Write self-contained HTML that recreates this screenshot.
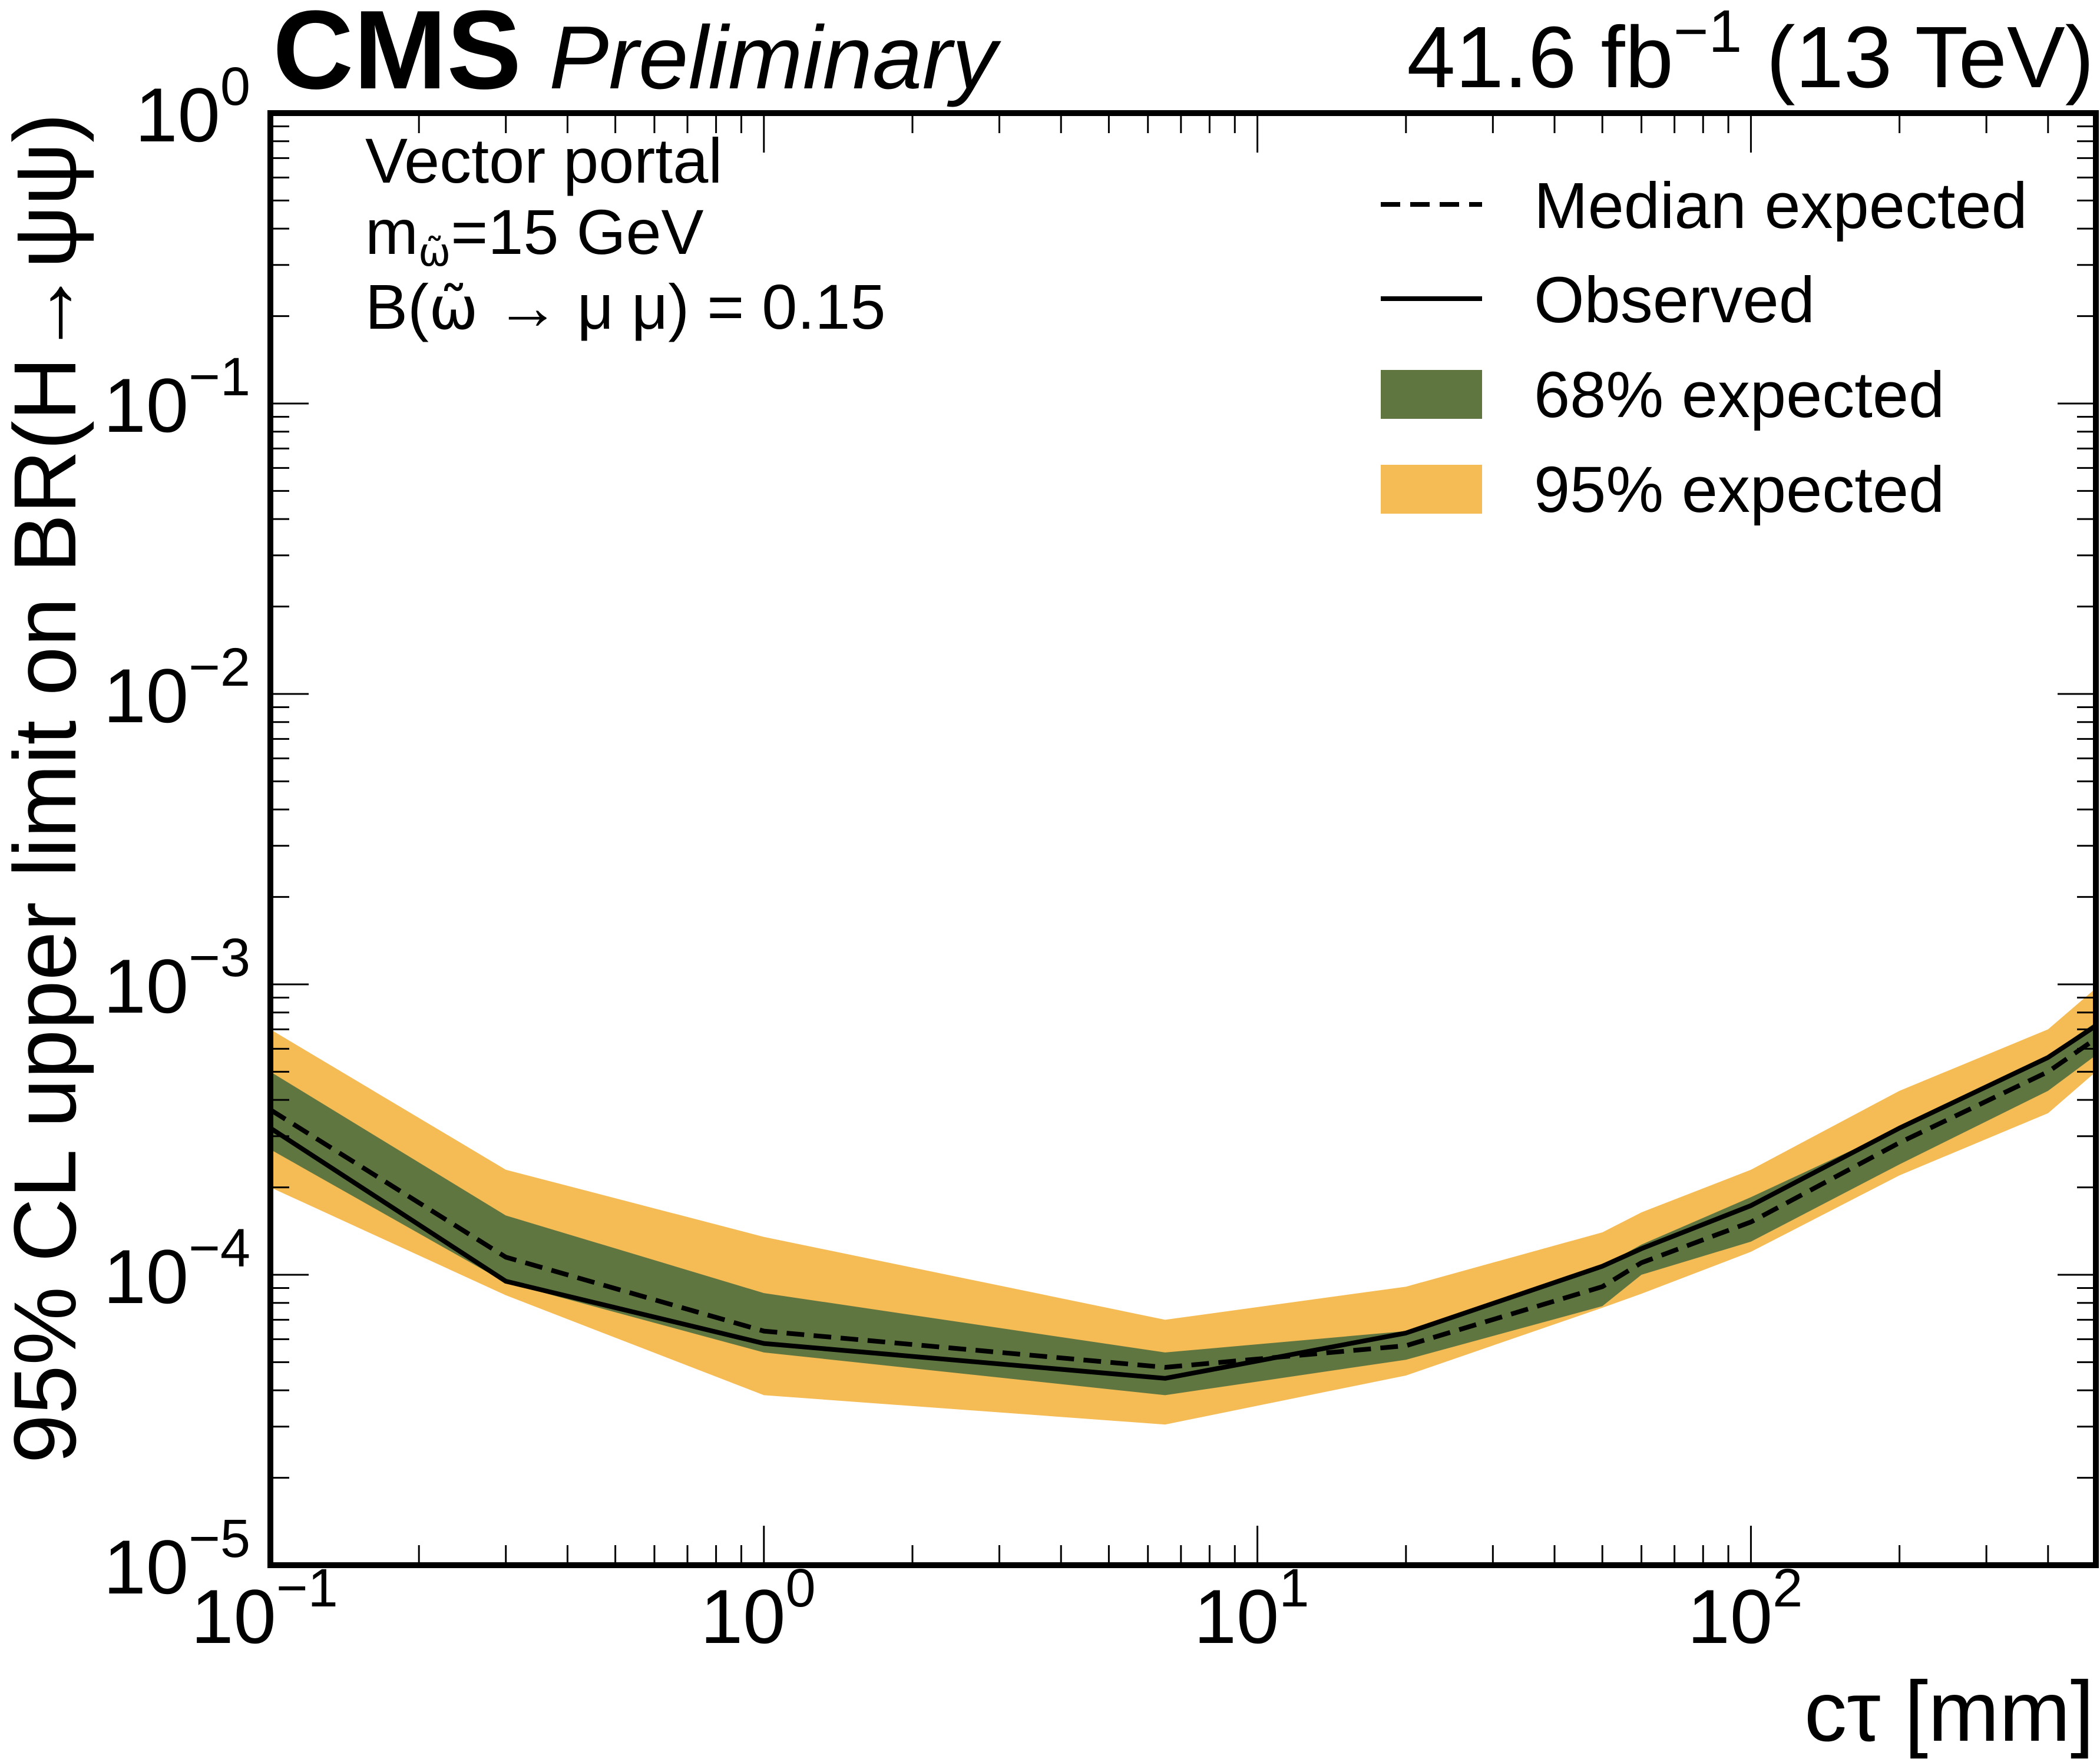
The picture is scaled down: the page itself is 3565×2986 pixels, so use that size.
<!DOCTYPE html>
<html><head><meta charset="utf-8"><style>
html,body{margin:0;padding:0;background:#fff}
svg{display:block}
text{font-family:"Liberation Sans",Arial,sans-serif;fill:#000}
.dv{font-family:"DejaVu Sans",sans-serif}
</style></head><body>
<svg id="chart" width="3565" height="2986" viewBox="0 0 3565 2986" xmlns="http://www.w3.org/2000/svg">
<g id="bands"></g>
<g id="lines"></g>
<g id="axes"></g>
<rect x="459" y="192" width="3099" height="2465" fill="none" stroke="#000" stroke-width="10"/>
<text x="463" y="150" font-size="190" font-weight="bold">CMS</text>
<text x="932" y="150" font-size="152" font-style="italic">Preliminary</text>
<text x="3555" y="148" font-size="148" text-anchor="end">41.6 fb<tspan dy="-60" font-size="102">−1</tspan><tspan dy="60"> (13 TeV)</tspan></text>
<text x="620" y="310" font-size="108">Vector portal</text>
<text x="620" y="431" font-size="108">m<tspan dy="20" font-size="66" class="dv">ω̃</tspan><tspan dy="-20">=15 GeV</tspan></text>
<text x="620" y="558" font-size="108">B(<tspan class="dv" font-size="100">ω̃</tspan> → μ μ) = 0.15</text>
<g>
<line x1="2344" y1="347" x2="2516" y2="347" stroke="#000" stroke-width="8" stroke-dasharray="33,17"/>
<text x="2604" y="387" font-size="110">Median expected</text>
<line x1="2344" y1="507" x2="2516" y2="507" stroke="#000" stroke-width="8"/>
<text x="2604" y="547" font-size="110">Observed</text>
<rect x="2344" y="628" width="172" height="83" fill="#607641"/>
<text x="2604" y="708" font-size="110">68% expected</text>
<rect x="2344" y="789" width="172" height="83" fill="#F5BB54"/>
<text x="2604" y="869" font-size="110">95% expected</text>
</g>
<text x="3555" y="2955" font-size="145" text-anchor="end">cτ [mm]</text>
<text transform="translate(128,192) rotate(-90)" font-size="150" text-anchor="end">95% CL upper limit on BR(H→ψψ)</text>
</svg>
<script>
const ctau = [0.1, 0.3, 1, 6.5, 20, 50, 60, 100, 200, 400, 500];
const observed = [3.2e-4, 9.5e-5, 5.8e-5, 4.4e-5, 6.3e-5, 1.07e-4, 1.23e-4, 1.73e-4, 3.2e-4, 5.6e-4, 7.2e-4];
const expected = [3.7e-4, 1.15e-4, 6.4e-5, 4.8e-5, 5.7e-5, 9.1e-5, 1.1e-4, 1.52e-4, 2.85e-4, 5.0e-4, 6.5e-4];
const up68 = [5.0e-4, 1.6e-4, 8.65e-5, 5.4e-5, 6.4e-5, 1.07e-4, 1.27e-4, 1.85e-4, 3.2e-4, 5.7e-4, 7.4e-4];
const lo68 = [2.7e-4, 9.4e-5, 5.4e-5, 3.85e-5, 5.1e-5, 7.8e-5, 1.0e-4, 1.3e-4, 2.4e-4, 4.3e-4, 5.7e-4];
const up95 = [7.0e-4, 2.3e-4, 1.35e-4, 7.0e-5, 9.1e-5, 1.4e-4, 1.64e-4, 2.3e-4, 4.3e-4, 7.0e-4, 9.7e-4];
const lo95 = [2.0e-4, 8.5e-5, 3.85e-5, 3.05e-5, 4.5e-5, 7.7e-5, 8.6e-5, 1.2e-4, 2.2e-4, 3.6e-4, 5.0e-4];
const xDecades = [-1, 0, 1, 2];
const yDecades = [0, -1, -2, -3, -4, -5];

const NS = "http://www.w3.org/2000/svg";
const L = 459, R = 3558, T = 192, B = 2657;
const xMinLog = -1, xMaxLog = Math.log10(500);
const yMinLog = -5, yMaxLog = 0;
function xs(v){ return L + (Math.log10(v) - xMinLog) / (xMaxLog - xMinLog) * (R - L); }
function ys(v){ return B - (Math.log10(v) - yMinLog) / (yMaxLog - yMinLog) * (B - T); }
function mk(tag, attrs, parent){ const e = document.createElementNS(NS, tag); for (const k in attrs) e.setAttribute(k, attrs[k]); parent.appendChild(e); return e; }

const bands = document.getElementById('bands');
function band(up, lo, color, name){
  let d = '';
  ctau.forEach((c,i)=>{ d += (i?'L':'M') + xs(c).toFixed(1) + ',' + ys(up[i]).toFixed(1); });
  for (let i = ctau.length-1; i >= 0; i--) d += 'L' + xs(ctau[i]).toFixed(1) + ',' + ys(lo[i]).toFixed(1);
  const p = mk('path', {d: d + 'Z', fill: color}, bands);
  
  
}
band(up95, lo95, '#F5BB54', 'band-95');
band(up68, lo68, '#607641', 'band-68');

const lines = document.getElementById('lines');
function line(vals, dash, name){
  const pts = ctau.map((c,i)=> xs(c).toFixed(1) + ',' + ys(vals[i]).toFixed(1)).join(' ');
  const attrs = {points: pts, fill: 'none', stroke: '#000', 'stroke-width': 8, 'stroke-linejoin': 'round'};
  if (dash) attrs['stroke-dasharray'] = '30,16';
  const p = mk('polyline', attrs, lines);
  
  
}
line(expected, true, 'median-expected-line');
line(observed, false, 'observed-line');

const axes = document.getElementById('axes');
for (let d = -1; d <= 2; d++){
  for (let m = 1; m <= 9; m++){
    const v = m * Math.pow(10, d);
    if (v > 500) break;
    const x = xs(v);
    const len = m === 1 ? 67 : 34;
    const t1 = mk('line', {x1: x, y1: B, x2: x, y2: B - len, stroke: '#000', 'stroke-width': 3}, axes);
    
    
    const t2 = mk('line', {x1: x, y1: T, x2: x, y2: T + len, stroke: '#000', 'stroke-width': 3}, axes);
    
    
  }
}
xDecades.forEach(d=>{
  const x = xs(Math.pow(10, d));
  const t = mk('text', {x: x - 10, y: 2789, 'font-size': 130, 'text-anchor': 'middle'}, axes);
  
  
  t.innerHTML = '10<tspan dy="-62" font-size="92">' + (d < 0 ? '−' + (-d) : d) + '</tspan>';
});
for (let d = -5; d <= 0; d++){
  for (let m = 1; m <= 9; m++){
    const v = m * Math.pow(10, d);
    if (v > 1) break;
    const y = ys(v);
    const len = m === 1 ? 65 : 32;
    const t1 = mk('line', {x1: L, y1: y, x2: L + len, y2: y, stroke: '#000', 'stroke-width': 3}, axes);
    
    
    const t2 = mk('line', {x1: R, y1: y, x2: R - len, y2: y, stroke: '#000', 'stroke-width': 3}, axes);
    
    
  }
}
yDecades.forEach(d=>{
  const y = ys(Math.pow(10, d));
  const t = mk('text', {x: 425, y: y + 48, 'font-size': 130, 'text-anchor': 'end'}, axes);
  
  
  t.innerHTML = '10<tspan dy="-62" font-size="92">' + (d < 0 ? '−' + (-d) : d) + '</tspan>';
});
</script>
</body></html>
